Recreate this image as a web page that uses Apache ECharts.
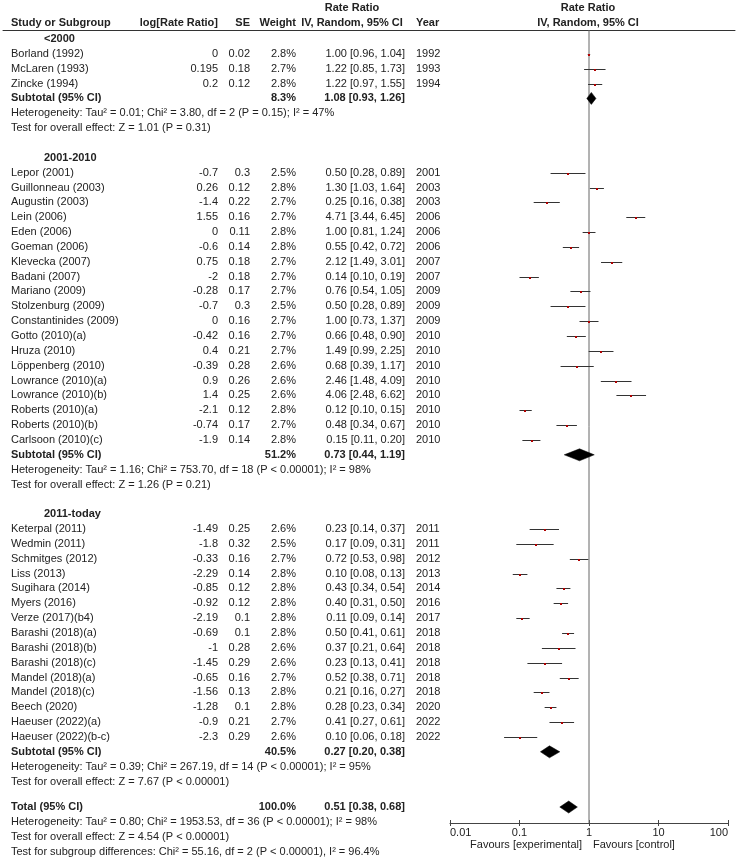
<!DOCTYPE html>
<html><head><meta charset="utf-8">
<script src="https://cdn.jsdelivr.net/npm/echarts@6/dist/echarts.min.js"></script>
<style>html,body{margin:0;padding:0;background:#fff}#c{width:738px;height:860px}</style>
</head><body><div id="c"></div>
<script>
// ---------------- DATA ----------------
const groupLabels = ['<2000', '2001-2010', '2011-today'];
const groupSizes = [3, 19, 15];
const studyNames = [
  'Borland (1992)', 'McLaren (1993)', 'Zincke (1994)',
  'Lepor (2001)', 'Guillonneau (2003)', 'Augustin (2003)', 'Lein (2006)', 'Eden (2006)', 'Goeman (2006)',
  'Klevecka (2007)', 'Badani (2007)', 'Mariano (2009)', 'Stolzenburg (2009)', 'Constantinides (2009)',
  'Gotto (2010)(a)', 'Hruza (2010)', 'Löppenberg (2010)', 'Lowrance (2010)(a)', 'Lowrance (2010)(b)',
  'Roberts (2010)(a)', 'Roberts (2010)(b)', 'Carlsoon (2010)(c)',
  'Keterpal (2011)', 'Wedmin (2011)', 'Schmitges (2012)', 'Liss (2013)', 'Sugihara (2014)', 'Myers (2016)',
  'Verze (2017)(b4)', 'Barashi (2018)(a)', 'Barashi (2018)(b)', 'Barashi (2018)(c)', 'Mandel (2018)(a)',
  'Mandel (2018)(c)', 'Beech (2020)', 'Haeuser (2022)(a)', 'Haeuser (2022)(b-c)'
];
const logRR = [0, 0.195, 0.2,
  -0.7, 0.26, -1.4, 1.55, 0, -0.6, 0.75, -2, -0.28, -0.7, 0, -0.42, 0.4, -0.39, 0.9, 1.4, -2.1, -0.74, -1.9,
  -1.49, -1.8, -0.33, -2.29, -0.85, -0.92, -2.19, -0.69, -1, -1.45, -0.65, -1.56, -1.28, -0.9, -2.3];
const seValues = [0.02, 0.18, 0.12,
  0.3, 0.12, 0.22, 0.16, 0.11, 0.14, 0.18, 0.18, 0.17, 0.3, 0.16, 0.16, 0.21, 0.28, 0.26, 0.25, 0.12, 0.17, 0.14,
  0.25, 0.32, 0.16, 0.14, 0.12, 0.12, 0.1, 0.1, 0.28, 0.29, 0.16, 0.13, 0.1, 0.21, 0.29];
const weights = [2.8, 2.7, 2.8,
  2.5, 2.8, 2.7, 2.7, 2.8, 2.8, 2.7, 2.7, 2.7, 2.5, 2.7, 2.7, 2.7, 2.6, 2.6, 2.6, 2.8, 2.7, 2.8,
  2.6, 2.5, 2.7, 2.8, 2.8, 2.8, 2.8, 2.8, 2.6, 2.6, 2.7, 2.8, 2.8, 2.7, 2.6];
const rateRatio = [1.00, 1.22, 1.22,
  0.50, 1.30, 0.25, 4.71, 1.00, 0.55, 2.12, 0.14, 0.76, 0.50, 1.00, 0.66, 1.49, 0.68, 2.46, 4.06, 0.12, 0.48, 0.15,
  0.23, 0.17, 0.72, 0.10, 0.43, 0.40, 0.11, 0.50, 0.37, 0.23, 0.52, 0.21, 0.28, 0.41, 0.10];
const ciLow = [0.96, 0.85, 0.97,
  0.28, 1.03, 0.16, 3.44, 0.81, 0.42, 1.49, 0.10, 0.54, 0.28, 0.73, 0.48, 0.99, 0.39, 1.48, 2.48, 0.10, 0.34, 0.11,
  0.14, 0.09, 0.53, 0.08, 0.34, 0.31, 0.09, 0.41, 0.21, 0.13, 0.38, 0.16, 0.23, 0.27, 0.06];
const ciHigh = [1.04, 1.73, 1.55,
  0.89, 1.64, 0.38, 6.45, 1.24, 0.72, 3.01, 0.19, 1.05, 0.89, 1.37, 0.90, 2.25, 1.17, 4.09, 6.62, 0.15, 0.67, 0.20,
  0.37, 0.31, 0.98, 0.13, 0.54, 0.50, 0.14, 0.61, 0.64, 0.41, 0.71, 0.27, 0.34, 0.61, 0.18];
const years = [1992, 1993, 1994,
  2001, 2003, 2003, 2006, 2006, 2006, 2007, 2007, 2009, 2009, 2009, 2010, 2010, 2010, 2010, 2010, 2010, 2010, 2010,
  2011, 2011, 2012, 2013, 2014, 2016, 2017, 2018, 2018, 2018, 2018, 2018, 2020, 2022, 2022];
const subtotalWeight = [8.3, 51.2, 40.5];
const subtotalRR = [1.08, 0.73, 0.27];
const subtotalLow = [0.93, 0.44, 0.20];
const subtotalHigh = [1.26, 1.19, 0.38];
const heterogeneityTexts = [
  'Heterogeneity: Tau² = 0.01; Chi² = 3.80, df = 2 (P = 0.15); I² = 47%',
  'Heterogeneity: Tau² = 1.16; Chi² = 753.70, df = 18 (P < 0.00001); I² = 98%',
  'Heterogeneity: Tau² = 0.39; Chi² = 267.19, df = 14 (P < 0.00001); I² = 95%'
];
const overallEffectTexts = [
  'Test for overall effect: Z = 1.01 (P = 0.31)',
  'Test for overall effect: Z = 1.26 (P = 0.21)',
  'Test for overall effect: Z = 7.67 (P < 0.00001)'
];
const totalWeight = 100.0, totalRR = 0.51, totalLow = 0.38, totalHigh = 0.68;
const totalTexts = [
  'Heterogeneity: Tau² = 0.80; Chi² = 1953.53, df = 36 (P < 0.00001); I² = 98%',
  'Test for overall effect: Z = 4.54 (P < 0.00001)',
  'Test for subgroup differences: Chi² = 55.16, df = 2 (P < 0.00001), I² = 96.4%'
];

// ---------------- LAYOUT ----------------
const ROW0 = 39, ROWH = 14.85, TOP = 30, AXIS_Y = 823, H = 860;
const yMin = (TOP - ROW0) / ROWH, yMax = (AXIS_Y - ROW0) / ROWH;
const px2k = y => (y - ROW0) / ROWH;
const FONT = '11px "Liberation Sans", Arial, sans-serif';
const COL = { name: 11, group: 44, logrr: 218, se: 250, weight: 296, ci: 405, year: 416 };

const texts = [], marks = [];
function T(x, k, text, align, bold) { texts.push({ x, k, text, align: align || 'left', bold: !!bold }); }
const f2 = v => v.toFixed(2);
const ciText = (r, l, h) => f2(r) + ' [' + f2(l) + ', ' + f2(h) + ']';

// header
T(COL.name, px2k(23), 'Study or Subgroup', 'left', true);
T(COL.logrr, px2k(23), 'log[Rate Ratio]', 'right', true);
T(COL.se, px2k(23), 'SE', 'right', true);
T(COL.weight, px2k(23), 'Weight', 'right', true);
T(352, px2k(8), 'Rate Ratio', 'center', true);
T(352, px2k(23), 'IV, Random, 95% CI', 'center', true);
T(COL.year, px2k(23), 'Year', 'left', true);
T(588, px2k(8), 'Rate Ratio', 'center', true);
T(588, px2k(23), 'IV, Random, 95% CI', 'center', true);

let k = 0, si = 0;
groupLabels.forEach((g, gi) => {
  T(COL.group, k, g, 'left', true); k++;
  for (let j = 0; j < groupSizes[gi]; j++, si++, k++) {
    T(COL.name, k, studyNames[si]);
    T(COL.logrr, k, String(logRR[si]), 'right');
    T(COL.se, k, String(seValues[si]), 'right');
    T(COL.weight, k, weights[si].toFixed(1) + '%', 'right');
    T(COL.ci, k, ciText(rateRatio[si], ciLow[si], ciHigh[si]), 'right');
    T(COL.year, k, String(years[si]));
    marks.push({ kind: 'study', lo: ciLow[si], hi: ciHigh[si], rr: rateRatio[si], k });
  }
  T(COL.name, k, 'Subtotal (95% CI)', 'left', true);
  T(COL.weight, k, subtotalWeight[gi].toFixed(1) + '%', 'right', true);
  T(COL.ci, k, ciText(subtotalRR[gi], subtotalLow[gi], subtotalHigh[gi]), 'right', true);
  marks.push({ kind: 'diamond', lo: subtotalLow[gi], hi: subtotalHigh[gi], rr: subtotalRR[gi], k });
  T(COL.name, k + 1, heterogeneityTexts[gi]);
  T(COL.name, k + 2, overallEffectTexts[gi]);
  if (gi < groupLabels.length - 1) k += 4; else k += 2;
});
const kTot = k + 1.72;
T(COL.name, kTot, 'Total (95% CI)', 'left', true);
T(COL.weight, kTot, totalWeight.toFixed(1) + '%', 'right', true);
T(COL.ci, kTot, ciText(totalRR, totalLow, totalHigh), 'right', true);
marks.push({ kind: 'diamond', lo: totalLow, hi: totalHigh, rr: totalRR, k: kTot });
totalTexts.forEach((t, i) => T(COL.name, kTot + 1 + i, t));
T(582, px2k(845), 'Favours [experimental]', 'right');
T(593, px2k(845), 'Favours [control]', 'left');

// ---------------- CHART ----------------
const chart = echarts.init(document.getElementById('c'), null, { renderer: 'canvas' });
const crisp = v => Math.round(v) + 0.5;
chart.setOption({
  animation: false,
  backgroundColor: '#fff',
  grid: [
    { left: 3, right: 3, top: TOP, bottom: H - AXIS_Y, containLabel: false },
    { left: 450, right: 10, top: TOP, bottom: H - AXIS_Y, containLabel: false }
  ],
  xAxis: [
    { gridIndex: 0, type: 'value', min: 3, max: 735, position: 'top',
      axisLine: { show: true, onZero: false, lineStyle: { color: '#333', width: 1 } },
      axisTick: { show: false }, axisLabel: { show: false }, splitLine: { show: false } },
    { gridIndex: 1, type: 'log', logBase: 10, min: 0.01, max: 100, position: 'bottom',
      axisLine: { show: true, onZero: false, lineStyle: { color: '#444', width: 1 } },
      axisTick: { show: true, length: 3, lineStyle: { color: '#444' } },
      axisLabel: { show: true, color: '#222', fontSize: 11, fontFamily: '"Liberation Sans", Arial, sans-serif',
        margin: 4, alignMinLabel: 'left', alignMaxLabel: 'right',
        formatter: v => String(+(+v).toPrecision(3)) },
      splitLine: { show: false } },
    { gridIndex: 1, type: 'log', logBase: 10, min: 0.01, max: 100, position: 'bottom',
      axisLine: { show: false, onZero: false },
      axisTick: { show: true, inside: true, length: 3, lineStyle: { color: '#444' } },
      axisLabel: { show: false }, splitLine: { show: false } }
  ],
  yAxis: [
    { gridIndex: 0, type: 'value', inverse: true, min: yMin, max: yMax, show: false },
    { gridIndex: 1, type: 'value', inverse: true, min: yMin, max: yMax, show: false }
  ],
  series: [
    { type: 'line', xAxisIndex: 1, yAxisIndex: 1, data: [[1, yMin], [1, yMax]], symbol: 'none',
      lineStyle: { color: '#666', width: 1 }, silent: true, z: 1 },
    { type: 'custom', xAxisIndex: 1, yAxisIndex: 1, clip: false, z: 3,
      data: marks.map(m => [m.lo, m.hi, m.rr, m.k]),
      encode: { x: [0, 1, 2], y: 3 },
      renderItem: (params, api) => {
        const m = marks[params.dataIndex];
        const a = api.coord([m.lo, m.k]), b = api.coord([m.hi, m.k]), c = api.coord([m.rr, m.k]);
        if (m.kind === 'study') {
          const y = crisp(a[1]);
          return { type: 'group', children: [
            { type: 'line', shape: { x1: a[0], y1: y, x2: b[0], y2: y }, style: { stroke: '#333', lineWidth: 1 } },
            { type: 'rect', shape: { x: Math.round(c[0]) - 1, y: Math.round(a[1]), width: 2, height: 2 }, style: { fill: '#b00000' } }
          ] };
        }
        const h = 6, y = a[1];
        return { type: 'polygon', shape: { points: [[a[0], y], [c[0], y - h], [b[0], y], [c[0], y + h]] },
          style: { fill: '#000', stroke: '#000', lineWidth: 0.5 } };
      } },
    { type: 'custom', xAxisIndex: 0, yAxisIndex: 0, clip: false, z: 4,
      data: texts.map(t => [t.x, t.k]),
      encode: { x: 0, y: 1 },
      renderItem: (params, api) => {
        const t = texts[params.dataIndex];
        const p = api.coord([t.x, t.k]);
        return { type: 'text', x: Math.round(p[0]), y: Math.round(p[1]),
          style: { text: t.text, fill: '#222', font: (t.bold ? 'bold ' : '') + FONT, align: t.align, verticalAlign: 'middle' } };
      } }
  ]
});
</script></body></html>
